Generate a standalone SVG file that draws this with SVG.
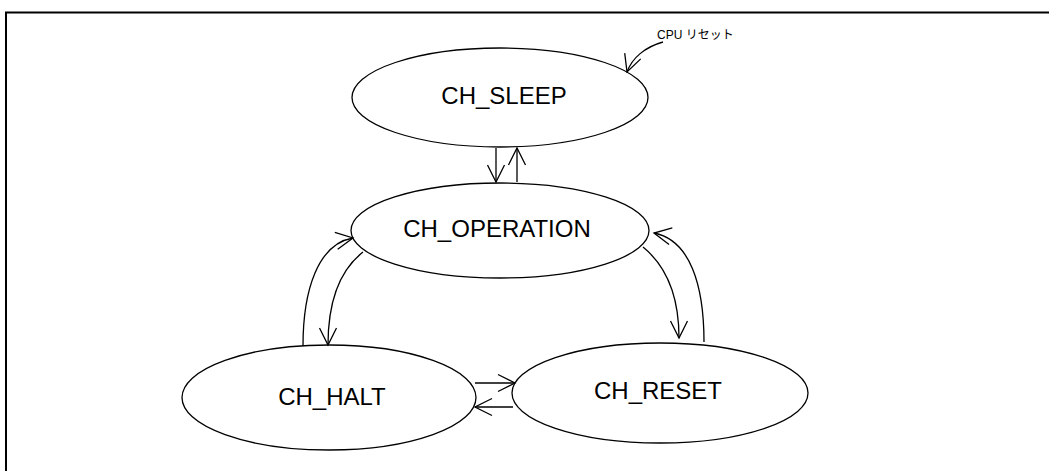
<svg xmlns="http://www.w3.org/2000/svg" width="1049" height="471" viewBox="0 0 1049 471">
<style>
.node ellipse{fill:#fff;stroke:#000;stroke-width:1.3}
.node text{font-family:"Liberation Sans",Arial,sans-serif;font-size:24px;fill:#000;text-anchor:middle}
.conn path{fill:none;stroke:#000;stroke-width:1.3;marker-end:url(#ah)}
.lbl{font-family:"Liberation Sans",Arial,"Noto Sans CJK JP",sans-serif;font-size:12px;fill:#000}
</style>
<defs>
<marker id="ah" markerUnits="userSpaceOnUse" orient="auto" overflow="visible" markerWidth="1" markerHeight="1" refX="0" refY="0">
<path d="M-17,-8.5 L0,0 L-17,8.5" fill="none" stroke="#000" stroke-width="1.3"/>
</marker>
</defs>
<rect width="1049" height="471" fill="#fff"/>
<path d="M6,471 V12.5 H1049" fill="none" stroke="#000" stroke-width="2"/>
<g id="n_sleep" class="node">
<ellipse cx="500" cy="97.5" rx="148" ry="49.5"/>
<text x="504" y="104">CH_SLEEP</text>
</g>
<g id="n_operation" class="node">
<ellipse cx="500" cy="230.5" rx="149" ry="47.5"/>
<text x="497" y="237">CH_OPERATION</text>
</g>
<g id="n_halt" class="node">
<ellipse cx="329" cy="397.5" rx="147" ry="52.5"/>
<text x="332" y="405">CH_HALT</text>
</g>
<g id="n_reset" class="node">
<ellipse cx="660" cy="393" rx="148" ry="50"/>
<text x="658" y="399">CH_RESET</text>
</g>
<g id="connectors" class="conn">
<path d="M663,42 C645,47 632,58 627,72"/>
<path d="M496,148 V182"/>
<path d="M517,182 V148"/>
<path d="M303,346 C303,290 318,244 353,238"/>
<path d="M363,252 C340,270 328,300 328,345"/>
<path d="M643,247 C665,265 679,295 679,338"/>
<path d="M704,342 C704,285 690,240 654,233"/>
<path d="M475,383 H515"/>
<path d="M513,407 H475"/>
</g>
<text class="lbl" x="657" y="39">CPU リセット</text>
</svg>
